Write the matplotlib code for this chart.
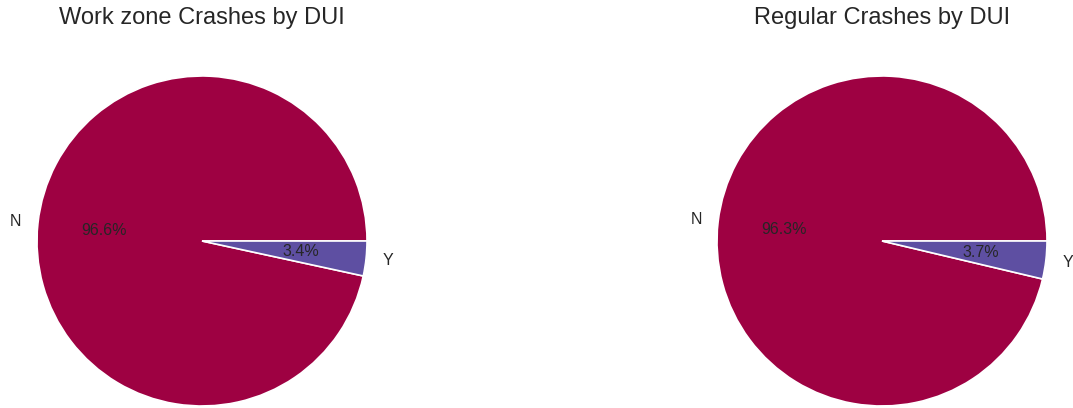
import matplotlib.pyplot as plt

# DUI share of crashes
labels = ['N', 'Y']
workzone_pct = [96.6, 3.4]
regular_pct = [96.3, 3.7]
titles = ['Work zone Crashes by DUI', 'Regular Crashes by DUI']
colors = ['#9e0142', '#5e4fa2']

plt.rcParams['font.family'] = ['Liberation Sans', 'DejaVu Sans']
plt.rcParams['text.color'] = '#262626'

W, H = 1073, 408
fig = plt.figure(figsize=(W / 100, H / 100), dpi=100)

radius_px = 165
centers = [(202, 167), (882, 167)]   # pixel centres of the two pies
side = radius_px * 2.5

for (cx, cy), vals, title in zip(centers, [workzone_pct, regular_pct], titles):
    ax = fig.add_axes([(cx - side / 2) / W, (cy - side / 2) / H, side / W, side / H])
    ax.pie(vals, labels=labels, colors=colors, autopct='%1.1f%%',
           wedgeprops={'edgecolor': 'white', 'linewidth': 1.2},
           textprops={'fontsize': 11.5, 'color': '#262626'})
    ax.set_aspect('equal')
    fig.text(cx / W, 1 - 18 / H, title, ha='center', va='center', fontsize=17)

fig.savefig('out.png', dpi=100, facecolor='white')
